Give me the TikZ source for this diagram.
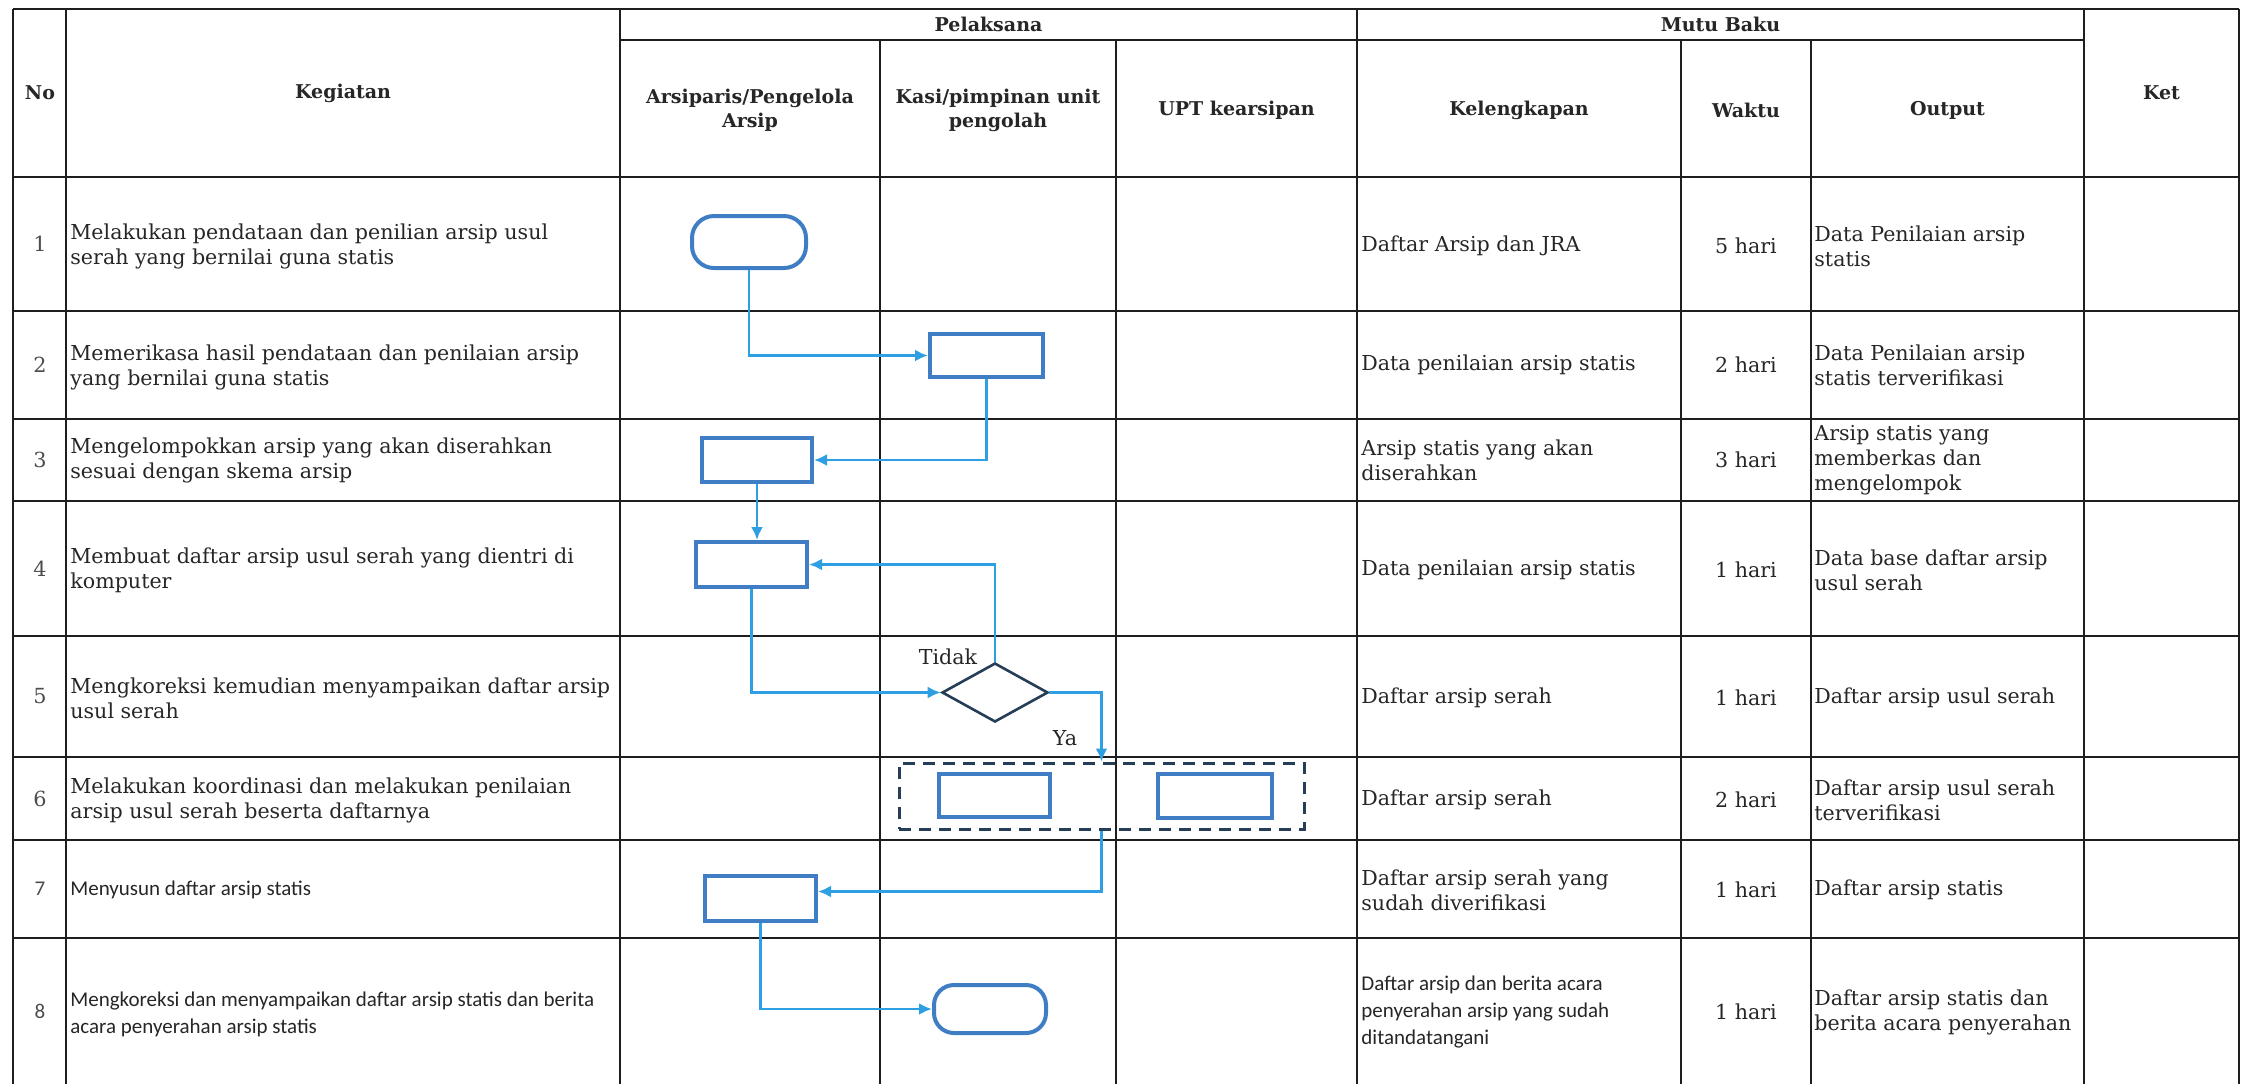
\documentclass[tikz,border=0pt]{standalone}
\usepackage{fontspec}
\setmainfont{DejaVu Serif}
\newfontfamily\carlito{Carlito}
\usetikzlibrary{arrows.meta,shapes.geometric}
\definecolor{boxblue}{HTML}{3F7DC4}
\definecolor{linkblue}{HTML}{2E9FE2}
\definecolor{navyc}{HTML}{263D57}
\definecolor{gridc}{HTML}{1E1E1E}
\definecolor{txt}{HTML}{262626}
\tikzset{
  vline/.style={draw=gridc, line width=0.9pt},
  hline/.style={draw=gridc, line width=1.2pt},
  stepbox/.style={rectangle, draw=boxblue, line width=2pt, fill=white, inner sep=0pt},
  term/.style={stepbox, rounded corners=11pt},
  decision/.style={diamond, draw=navyc, line width=1.3pt, inner sep=0pt, minimum width=53pt, minimum height=29.5pt},
  groupbox/.style={rectangle, draw=navyc, line width=1.5pt, dash pattern=on 6pt off 4pt, inner sep=0pt},
  conn/.style={draw=linkblue, line width=1.3pt, -{Latex[length=6.5pt,width=6pt]}},
  body/.style={font=\fontsize{10.3}{12.5}\selectfont, text=txt, inner sep=0pt, align=left},
  sbody/.style={font=\carlito\fontsize{10.5}{13.5}\selectfont, text=txt, inner sep=0pt, align=left},
  num/.style={font=\fontsize{10.4}{12.5}\selectfont, text=black!70, inner sep=0pt},
  snum/.style={font=\carlito\fontsize{10.5}{12.5}\selectfont, text=black!70, inner sep=0pt},
  head/.style={font=\bfseries\fontsize{9.5}{12}\selectfont, text=txt, inner sep=0pt, align=center},
  lbl/.style={font=\fontsize{10.3}{12.5}\selectfont, text=txt, inner sep=0pt},
}
\begin{document}
\begin{tikzpicture}[x=0.5pt,y=-0.5pt]
\useasboundingbox (0,0) rectangle (2243,1084);
% ---------- grid ----------
\foreach \yy in {9,177,311,419,501,636,757,840,938}
  \draw[hline] (13,\yy) -- (2239,\yy);
\draw[hline] (620,40) -- (2084,40);
\foreach \xx in {13,66,620,1357,2084,2239}
  \draw[vline] (\xx,9) -- (\xx,1084);
\foreach \xx in {880,1116,1681,1811}
  \draw[vline] (\xx,40) -- (\xx,1084);
% ---------- header ----------
\node[head] (hNo) at (40,93) {No};
\node[head] (hKeg) at (343,93) {Kegiatan};
\node[head] (hPel) at (988.5,24.5) {Pelaksana};
\node[head] (hArs) at (750,110) {Arsiparis/Pengelola\\Arsip};
\node[head] (hKasi) at (998,110) {Kasi/pimpinan unit\\pengolah};
\node[head] (hUpt) at (1236.5,110) {UPT kearsipan};
\node[head] (hMutu) at (1720.5,24.5) {Mutu Baku};
\node[head] (hKel) at (1519,110) {Kelengkapan};
\node[head] (hWak) at (1746,110) {Waktu};
\node[head] (hOut) at (1947.5,110) {Output};
\node[head] (hKet) at (2161.5,93) {Ket};
% ---------- numbers ----------
\node[num] (n1) at (40,244) {1};
\node[num] (n2) at (40,365) {2};
\node[num] (n3) at (40,460) {3};
\node[num] (n4) at (40,568.5) {4};
\node[num] (n5) at (40,696.5) {5};
\node[num] (n6) at (40,798.5) {6};
\node[snum] (n7) at (40,889) {7};
\node[snum] (n8) at (40,1011) {8};
% ---------- kegiatan ----------
\node[body, anchor=west] (k1) at (70,246) {Melakukan pendataan dan penilian arsip usul\\serah yang bernilai guna statis};
\node[body, anchor=west] (k2) at (70,367) {Memerikasa hasil pendataan dan penilaian arsip\\yang bernilai guna statis};
\node[body, anchor=west] (k3) at (70,460) {Mengelompokkan arsip yang akan diserahkan\\sesuai dengan skema arsip};
\node[body, anchor=west] (k4) at (70,570) {Membuat daftar arsip usul serah yang dientri di\\komputer};
\node[body, anchor=west] (k5) at (70,698) {Mengkoreksi kemudian menyampaikan daftar arsip\\usul serah};
\node[body, anchor=west] (k6) at (70,800) {Melakukan koordinasi dan melakukan penilaian\\arsip usul serah beserta daftarnya};
\node[sbody, anchor=west] (k7) at (70,890) {Menyusun daftar arsip statis};
\node[sbody, anchor=west] (k8) at (70,1014) {Mengkoreksi dan menyampaikan daftar arsip statis dan berita\\acara penyerahan arsip statis};
% ---------- kelengkapan ----------
\node[body, anchor=west] (kl1) at (1361,246) {Daftar Arsip dan JRA};
\node[body, anchor=west] (kl2) at (1361,365) {Data penilaian arsip statis};
\node[body, anchor=west] (kl3) at (1361,460) {Arsip statis yang akan\\diserahkan};
\node[body, anchor=west] (kl4) at (1361,570) {Data penilaian arsip statis};
\node[body, anchor=west] (kl5) at (1361,698) {Daftar arsip serah};
\node[body, anchor=west] (kl6) at (1361,800) {Daftar arsip serah};
\node[body, anchor=west] (kl7) at (1361,890) {Daftar arsip serah yang\\sudah diverifikasi};
\node[sbody, anchor=west] (kl8) at (1361,1012) {Daftar arsip dan berita acara\\penyerahan arsip yang sudah\\ditandatangani};
% ---------- waktu ----------
\node[lbl] (w1) at (1746,246) {5 hari};
\node[lbl] (w2) at (1746,365) {2 hari};
\node[lbl] (w3) at (1746,460) {3 hari};
\node[lbl] (w4) at (1746,570) {1 hari};
\node[lbl] (w5) at (1746,698) {1 hari};
\node[lbl] (w6) at (1746,800) {2 hari};
\node[lbl] (w7) at (1746,890) {1 hari};
\node[lbl] (w8) at (1746,1012) {1 hari};
% ---------- output ----------
\node[body, anchor=west] (o1) at (1814,246) {Data Penilaian arsip\\statis};
\node[body, anchor=west] (o2) at (1814,365) {Data Penilaian arsip\\statis terverifikasi};
\node[body, anchor=west] (o3) at (1814,460) {Arsip statis yang\\memberkas dan\\mengelompok};
\node[body, anchor=west] (o4) at (1814,570) {Data base daftar arsip\\usul serah};
\node[body, anchor=west] (o5) at (1814,698) {Daftar arsip usul serah};
\node[body, anchor=west] (o6) at (1814,800) {Daftar arsip usul serah\\terverifikasi};
\node[body, anchor=west] (o7) at (1814,890) {Daftar arsip statis};
\node[body, anchor=west] (o8) at (1814,1012) {Daftar arsip statis dan\\berita acara penyerahan};
% ---------- flow shapes ----------
\node[term, minimum width=57pt, minimum height=26pt] (t1) at (749,242) {};
\node[stepbox, minimum width=56.5pt, minimum height=21.5pt] (b2) at (986.5,355.5) {};
\node[stepbox, minimum width=55pt, minimum height=22pt] (b3) at (757,460) {};
\node[stepbox, minimum width=55.5pt, minimum height=22.5pt] (b4) at (751.5,564.5) {};
\node[decision] (d5) at (995,692.5) {};
\node[groupbox, minimum width=202.5pt, minimum height=33pt] (g6) at (1101.5,796) {};
\node[stepbox, minimum width=55.5pt, minimum height=21.5pt] (b6a) at (994.5,795.5) {};
\node[stepbox, minimum width=57pt, minimum height=22pt] (b6b) at (1215,796) {};
\node[stepbox, minimum width=55.5pt, minimum height=22.5pt] (b7) at (760.5,898.5) {};
\node[term, minimum width=56pt, minimum height=24pt, rounded corners=10pt] (t8) at (990,1009) {};
% ---------- labels ----------
\node[lbl] (lTidak) at (948,657) {Tidak};
\node[lbl] (lYa) at (1065,738) {Ya};
% ---------- connectors ----------
\draw[conn] (t1.south) |- (b2.west);
\draw[conn] (b2.south) |- (b3.east);
\draw[conn] (b3.south) -- (b3.south |- b4.north);
\draw[conn] (b4.south) |- (d5.west);
\draw[conn] (d5.north) |- (b4.east);
\draw[conn] (d5.east) -| (g6.north);
\draw[conn] (g6.south) |- ([yshift=3.5pt]b7.east);
\draw[conn] (b7.south) |- (t8.west);
\end{tikzpicture}
\end{document}
